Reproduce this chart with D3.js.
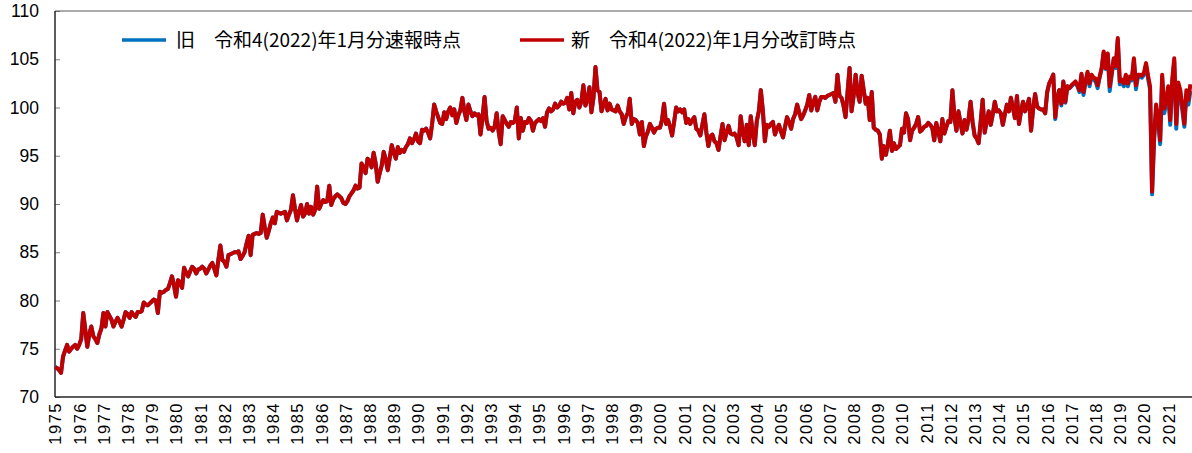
<!DOCTYPE html>
<html>
<head>
<meta charset="utf-8">
<script src="https://cdn.jsdelivr.net/npm/d3@7/dist/d3.min.js"></script>
<style>
  body { margin: 0; background: #fff; }
  svg { display: block; }
  .tick-y text { font-family: "Liberation Sans", Arial, sans-serif; font-size: 17.5px; fill: #000; }
  .tick-x text { font-family: "Liberation Sans", Arial, sans-serif; font-size: 16.5px; fill: #000; letter-spacing: 1.5px; }
  .legend text { font-family: "Noto Sans CJK JP", sans-serif; font-size: 19px; fill: #000; }
</style>
</head>
<body>
<div id="chart"></div>
<script>
// Year labels on the x axis (one per January)
const yearLabels = [
  '1975', '1976', '1977', '1978', '1979', '1980', '1981', '1982', '1983', '1984',
  '1985', '1986', '1987', '1988', '1989', '1990', '1991', '1992', '1993', '1994',
  '1995', '1996', '1997', '1998', '1999', '2000', '2001', '2002', '2003', '2004',
  '2005', '2006', '2007', '2008', '2009', '2010', '2011', '2012', '2013', '2014',
  '2015', '2016', '2017', '2018', '2019', '2020', '2021'
];

const yTicks = [70, 75, 80, 85, 90, 95, 100, 105, 110];

const seriesNames = ['旧\u3000令和4(2022)年1月分速報時点', '新\u3000令和4(2022)年1月分改訂時点'];

// Monthly values Jan 1975 - Dec 2015, where the old and new series coincide
const sharedValues = [
  73.1, 73.0, 72.8, 72.5, 74.2, 74.8, 75.4, 74.7, 75.0, 75.2, 75.4, 75.0, // 1975
  75.4, 76.0, 78.7, 77.0, 75.2, 76.5, 77.3, 76.3, 76.0, 75.6, 76.5, 77.1, // 1976
  78.7, 77.3, 78.8, 78.4, 78.0, 77.3, 77.8, 78.2, 77.8, 77.3, 78.0, 78.8, // 1977
  78.6, 78.2, 78.8, 78.5, 78.3, 78.8, 78.8, 78.9, 79.8, 79.6, 79.5, 79.7, // 1978
  79.9, 80.1, 80.0, 78.7, 80.9, 80.8, 80.9, 81.1, 81.2, 81.8, 82.5, 81.6, // 1979
  80.4, 82.1, 81.9, 81.3, 83.4, 82.9, 82.5, 83.0, 83.5, 83.3, 82.8, 83.2, // 1980
  83.3, 83.5, 83.3, 82.8, 83.2, 83.6, 83.9, 83.3, 82.6, 84.2, 85.7, 84.2, // 1981
  84.0, 83.5, 84.7, 84.8, 84.9, 85.0, 85.0, 85.1, 84.3, 84.6, 85.0, 85.9, // 1982
  86.7, 84.7, 86.8, 86.9, 87.0, 86.9, 87.0, 88.9, 87.6, 86.5, 87.2, 88.0, // 1983
  88.6, 88.0, 89.2, 89.1, 89.0, 89.1, 89.2, 88.3, 88.9, 89.4, 90.9, 89.5, // 1984
  88.3, 89.2, 89.9, 88.7, 89.0, 90.0, 89.0, 89.7, 88.9, 89.4, 91.8, 89.5, // 1985
  90.0, 90.4, 90.2, 90.3, 91.9, 89.9, 90.5, 90.8, 91.0, 90.8, 90.6, 90.1, // 1986
  90.0, 90.3, 90.8, 91.1, 91.4, 91.9, 91.6, 91.7, 94.2, 93.8, 93.2, 94.7, // 1987
  94.5, 93.8, 95.3, 94.2, 92.3, 93.2, 94.0, 95.4, 94.6, 93.5, 94.8, 96.1, // 1988
  95.3, 94.7, 95.9, 95.3, 95.6, 95.4, 95.9, 96.2, 96.8, 96.3, 96.7, 97.3, // 1989
  96.5, 96.3, 97.7, 97.6, 97.8, 97.4, 96.8, 98.3, 100.3, 99.6, 99.0, 98.4, // 1990
  98.3, 99.5, 98.8, 99.6, 100.0, 99.2, 99.8, 98.4, 99.2, 99.7, 101.0, 99.6, // 1991
  98.7, 100.3, 99.6, 99.1, 99.4, 99.2, 99.3, 97.2, 99.0, 101.1, 98.6, 97.8, // 1992
  97.9, 97.6, 98.0, 99.4, 97.5, 96.2, 99.1, 98.7, 98.3, 98.0, 98.5, 98.4, // 1993
  98.6, 100.0, 96.8, 98.9, 97.6, 98.5, 98.4, 98.9, 98.6, 97.6, 98.4, 98.6, // 1994
  98.8, 98.6, 98.9, 98.0, 99.5, 99.9, 99.6, 99.8, 100.4, 100.0, 100.2, 100.6, // 1995
  100.4, 100.5, 101.0, 99.8, 101.5, 99.4, 100.6, 100.8, 100.0, 100.6, 102.3, 100.2, // 1996
  100.8, 102.1, 99.5, 101.0, 104.2, 101.8, 101.6, 99.6, 100.3, 100.9, 99.7, 100.4, // 1997
  99.8, 99.7, 99.6, 100.2, 99.6, 99.3, 98.3, 99.0, 99.4, 100.9, 98.3, 98.8, // 1998
  98.7, 98.4, 97.2, 98.5, 96.0, 97.0, 97.5, 98.3, 97.9, 97.4, 97.8, 97.9, // 1999
  97.9, 98.7, 100.4, 98.3, 98.7, 98.0, 97.1, 98.5, 100.0, 99.6, 99.8, 99.5, // 2000
  99.8, 98.4, 98.8, 98.3, 98.7, 99.0, 97.8, 97.6, 97.1, 98.2, 99.3, 97.4, // 2001
  96.0, 97.0, 97.2, 96.5, 96.3, 95.6, 97.0, 98.3, 96.6, 97.4, 98.1, 97.3, // 2002
  97.2, 97.3, 96.9, 96.1, 99.1, 97.5, 96.5, 98.2, 96.1, 99.1, 97.3, 96.1, // 2003
  98.6, 99.6, 101.8, 99.7, 96.5, 98.2, 98.0, 98.3, 98.5, 97.2, 97.8, 98.2, // 2004
  97.5, 96.9, 98.0, 99.0, 98.5, 97.8, 98.8, 99.3, 100.3, 99.5, 98.8, 99.2, // 2005
  99.7, 100.3, 101.3, 99.7, 100.5, 101.1, 99.7, 100.6, 101.1, 101.1, 101.0, 101.2, // 2006
  101.3, 101.4, 101.5, 100.6, 103.4, 101.2, 101.0, 100.2, 99.0, 101.6, 104.1, 99.6, // 2007
  101.2, 103.4, 101.5, 100.6, 103.3, 101.8, 100.4, 101.0, 98.7, 101.6, 97.9, 97.7, // 2008
  97.6, 97.2, 94.7, 96.0, 95.1, 96.2, 97.6, 95.5, 96.3, 95.7, 95.9, 96.1, // 2009
  97.8, 97.4, 99.4, 98.8, 96.6, 97.6, 97.9, 98.3, 99.0, 97.5, 97.7, 98.0, // 2010
  98.1, 98.4, 98.2, 97.9, 96.6, 98.4, 97.5, 96.5, 98.8, 97.3, 98.0, 98.6, // 2011
  98.5, 101.8, 99.0, 97.6, 99.6, 98.4, 97.3, 98.7, 97.7, 98.8, 100.6, 98.5, // 2012
  97.1, 96.8, 96.3, 98.5, 100.8, 97.4, 98.6, 99.6, 98.2, 99.3, 100.6, 99.6, // 2013
  99.7, 99.4, 98.2, 99.3, 100.3, 99.6, 101.0, 100.0, 98.9, 101.2, 98.3, 99.6, // 2014
  100.6, 99.6, 100.2, 100.9, 97.6, 99.8, 101.4, 100.1, 99.9, 99.8, 99.8, 99.4 // 2015
];

// Jan 2016 - Dec 2021, revised (新) series
const newValues = [
  101.6, 102.5, 102.9, 103.4, 99.0, 101.0, 101.8, 100.4, 102.7, 100.6, 102.2, 102.0, // 2016
  102.3, 102.5, 102.7, 102.3, 101.8, 103.5, 101.6, 102.7, 103.7, 102.5, 103.4, 103.1, // 2017
  103.0, 102.3, 103.2, 104.1, 105.8, 104.1, 105.6, 102.2, 103.6, 105.1, 104.3, 107.2, // 2018
  102.7, 102.9, 102.5, 103.4, 102.5, 103.2, 103.0, 105.1, 102.3, 103.4, 103.4, 103.3, // 2019
  103.6, 104.6, 103.3, 102.2, 91.3, 97.0, 100.3, 99.0, 96.6, 103.4, 99.9, 100.8, // 2020
  102.2, 98.7, 102.9, 105.1, 98.3, 102.6, 101.8, 100.2, 98.3, 101.8, 100.8, 102.4 // 2021
];

// Jan 2016 - Dec 2021, preliminary (旧) series
const oldValues = [
  101.6, 102.5, 102.9, 103.4, 98.8, 101.0, 101.8, 100.2, 102.7, 100.5, 102.2, 102.0, // 2016
  102.2, 102.4, 102.6, 102.2, 101.6, 103.4, 101.3, 102.6, 103.6, 102.2, 103.3, 102.9, // 2017
  102.7, 102.0, 103.1, 104.0, 105.7, 104.0, 105.5, 101.7, 103.4, 105.0, 104.1, 107.0, // 2018
  102.4, 102.6, 102.2, 103.2, 102.2, 103.0, 102.8, 104.9, 101.9, 103.2, 103.2, 103.1, // 2019
  103.4, 104.4, 103.0, 101.9, 91.0, 96.5, 99.8, 98.6, 96.2, 103.1, 99.4, 100.3, // 2020
  101.8, 98.2, 102.4, 104.8, 97.8, 102.1, 101.3, 99.7, 98.0, 101.3, 100.3, 101.7 // 2021
];

const colors = ['#0070C0', '#C00000'];

const W = 1192;
const H = 453;
const margin = { top: 11, right: 0, bottom: 56, left: 55 };

const series = [sharedValues.concat(oldValues), sharedValues.concat(newValues)];
const nMonths = yearLabels.length * 12;

const svg = d3.select('#chart').append('svg')
  .attr('width', W)
  .attr('height', H);

const x = d3.scaleLinear()
  .domain([0, nMonths])
  .range([margin.left, W - margin.right + 0.4]);

const y = d3.scaleLinear()
  .domain([70, 110])
  .range([H - margin.bottom, margin.top]);

// y axis (ticks point inward)
const yAxis = svg.append('g')
  .attr('class', 'tick-y')
  .attr('transform', `translate(${margin.left},0)`)
  .call(d3.axisLeft(y).tickValues(yTicks).tickSizeInner(-5).tickSizeOuter(0).tickPadding(16));
yAxis.select('.domain').remove();
yAxis.selectAll('line').attr('stroke', '#7f7f7f');

// x axis, year labels rotated
const xAxis = svg.append('g')
  .attr('class', 'tick-x')
  .attr('transform', `translate(0,${H - margin.bottom})`)
  .call(d3.axisBottom(x)
    .tickValues(yearLabels.map((d, i) => i * 12))
    .tickFormat((d, i) => yearLabels[i])
    .tickSize(0));
xAxis.select('.domain').remove();
xAxis.selectAll('text')
  .attr('transform', 'rotate(-90)')
  .attr('text-anchor', 'end')
  .attr('x', -5)
  .attr('y', 0)
  .attr('dy', '0.36em');

// frame
svg.append('line')
  .attr('x1', margin.left).attr('x2', W)
  .attr('y1', margin.top).attr('y2', margin.top)
  .attr('stroke', '#595959').attr('stroke-width', 1);
svg.append('line')
  .attr('x1', margin.left).attr('x2', W)
  .attr('y1', H - margin.bottom).attr('y2', H - margin.bottom)
  .attr('stroke', '#262626').attr('stroke-width', 1.5);
svg.append('line')
  .attr('x1', margin.left).attr('x2', margin.left)
  .attr('y1', margin.top).attr('y2', H - margin.bottom)
  .attr('stroke', '#262626').attr('stroke-width', 1.5);

// lines: old first so the revised series sits on top
const line = d3.line()
  .x((d, i) => x(i))
  .y(d => y(d));

svg.append('g')
  .selectAll('path')
  .data(series)
  .enter().append('path')
  .attr('d', line)
  .attr('fill', 'none')
  .attr('stroke', (d, i) => colors[i])
  .attr('stroke-width', 4)
  .attr('stroke-linejoin', 'round');

// legend
const legendPos = [{ x: 122, tx: 176 }, { x: 520, tx: 571 }];
const legend = svg.append('g').attr('class', 'legend');
legendPos.forEach((p, i) => {
  legend.append('line')
    .attr('x1', p.x).attr('x2', p.x + 44)
    .attr('y1', 40).attr('y2', 40)
    .attr('stroke', colors[i])
    .attr('stroke-width', 3.5);
  legend.append('text')
    .attr('x', p.tx)
    .attr('y', 40)
    .attr('dy', '0.35em')
    .text(seriesNames[i]);
});
</script>
</body>
</html>
